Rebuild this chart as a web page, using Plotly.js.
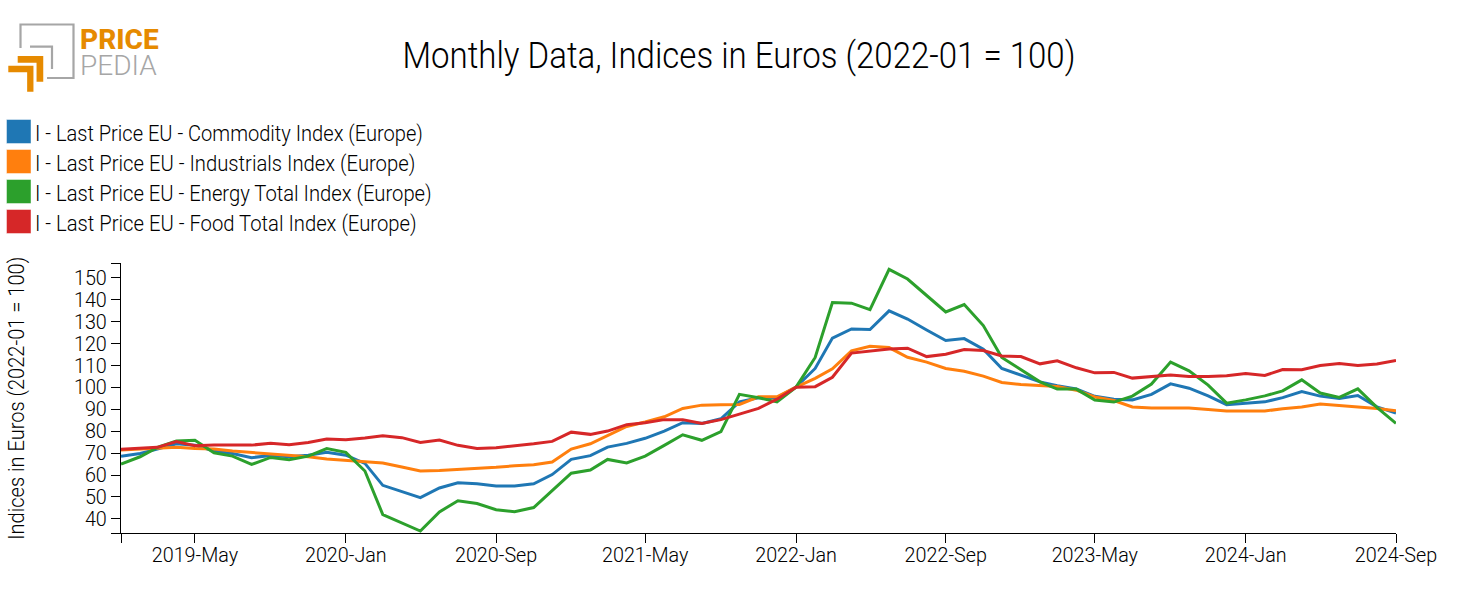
<!DOCTYPE html>
<html><head><meta charset="utf-8">
<script src="https://cdn.plot.ly/plotly-3.0.1.min.js"></script>
<style>html,body{margin:0;padding:0;background:#fff}#c{width:1477px;height:615px}</style>
</head><body><div id="c"></div>
<script>
const startYear = 2019;
const chartTitle = 'Monthly Data, Indices in Euros (2022-01 = 100)';
const yTitle = 'Indices in Euros (2022-01 = 100)';
const seriesNames = ['I - Last Price EU - Commodity Index (Europe)','I - Last Price EU - Industrials Index (Europe)','I - Last Price EU - Energy Total Index (Europe)','I - Last Price EU - Food Total Index (Europe)'];
const seriesColors = ['#1f77b4','#ff7f0e','#2ca02c','#d62728'];
const commodity = [68.5,69.8,71.8,74.2,73.5,70.9,69.8,67.9,68.9,68.3,69,70.3,69,65.3,55.3,52.4,49.7,54.1,56.5,56,55,55,56,60.2,67.1,68.8,72.7,74.4,76.7,80,83.8,83.5,85.6,93.3,95.2,95.3,100,108.5,122.3,126.5,126.2,134.7,131,126,121.2,122.1,117.3,108.5,105.5,102.4,100.6,99.2,95.8,94.5,94.2,96.7,101.5,99.5,96,92,92.7,93.3,95.2,98,95.9,94.8,96.2,91,88.2];
const industrials = [71.4,71.8,72.4,72.6,72.1,71.8,70.9,70.3,69.8,69.2,68.3,67.3,66.7,66.4,65.5,63.6,61.8,62,62.4,63,63.5,64.2,64.7,65.9,71.8,74.2,77.9,82.1,84.1,86.5,90.3,91.8,92,92.1,95.6,95.6,100,104,108.3,116.5,118.6,118,113.6,111.4,108.5,107.2,105,102.1,101.2,100.9,100.3,98.6,95.5,93.9,91,90.5,90.6,90.5,89.8,89.1,89.1,89.1,90.2,91,92.3,91.7,91,90.3,89.2];
const energy = [65,68.3,72.6,75.5,75.8,70.1,68.6,64.8,68,67,68.6,72,70.3,61.8,42,38.3,34.5,43.2,48.3,47,44.2,43.3,45.2,52.9,60.8,62.3,67.1,65.5,68.6,73.5,78.3,75.8,79.7,96.7,95.2,93.3,100,113.5,138.5,138.2,135.3,153.6,149.2,141.7,134.2,137.6,128,113.5,108,102.4,99.1,99.1,94.1,93.2,95.9,101.4,111.4,107.4,100.9,92.7,94.2,96,98.3,103.3,97.3,95.3,99.2,90.8,83.5];
const food = [71.7,72,72.6,75.2,73.3,73.6,73.6,73.6,74.5,73.8,74.8,76.4,76,76.8,77.9,77,74.8,75.9,73.5,72.1,72.4,73.2,74.2,75.3,79.5,78.5,80,82.9,83.8,85.2,85.2,83.5,85.2,87.7,90.3,94.5,100,100.2,104.5,115.5,116.4,117.3,117.7,113.9,115,117.1,116.7,114.2,113.9,110.6,112,108.8,106.5,106.7,104.1,104.8,105.5,104.8,104.8,105.2,106.2,105.3,108,107.9,109.8,110.8,109.8,110.5,112.1];
const yTicks = [40,50,60,70,80,90,100,110,120,130,140,150];
const xTickDates = ['2019-01-01','2019-05-01','2020-01-01','2020-09-01','2021-05-01','2022-01-01','2022-09-01','2023-05-01','2024-01-01','2024-09-01'];
const xTickLabels = ['','2019-May','2020-Jan','2020-Sep','2021-May','2022-Jan','2022-Sep','2023-May','2024-Jan','2024-Sep'];

const months = commodity.map((_, i) => {
  const y = startYear + Math.floor(i / 12), m = i % 12 + 1;
  return y + '-' + String(m).padStart(2, '0') + '-01';
});

const W = 1477, H = 615;
const M = {l:121, r:81, t:263, b:82};
const pw = W - M.l - M.r, ph = H - M.t - M.b;
const X = p => (p - M.l) / pw;
const Y = p => 1 - (p - M.t) / ph;
const yMin = 33.6, yMax = 156.5;

const F = 'Roboto, sans-serif';
const traces = [commodity, industrials, energy, food].map((v, i) => ({
  x: months, y: v, type:'scatter', mode:'lines', name: seriesNames[i],
  line:{color:seriesColors[i], width:3}, showlegend:false, cliponaxis:false, hoverinfo:'x+y+name'
}));

const shapes = [], annotations = [];
const legendScale = [0.912, 0.92, 0.919, 0.92];
seriesColors.forEach((c, i) => {
  const top = 119.5 + 30 * i;
  shapes.push({type:'rect', xref:'paper', yref:'paper', x0:X(6.5), x1:X(31), y0:Y(top), y1:Y(top+24),
    fillcolor:c, line:{color:'rgba(255,255,255,0.45)', width:1}});
  annotations.push({xref:'paper', yref:'paper', x:X(33), y:Y(top+14.3), xanchor:'left', yanchor:'middle', align:'left', showarrow:false,
    text:seriesNames[i], font:{family:F, size:22, weight:300, color:'#000'}});
});
annotations.push({xref:'paper', yref:'paper', x:X(739), y:Y(56), xanchor:'center', yanchor:'middle', showarrow:false,
  text:chartTitle, font:{family:F, size:36, weight:300, color:'#000'}});
annotations.push({xref:'paper', yref:'paper', x:X(16.5), y:Y(399), xanchor:'center', yanchor:'middle', showarrow:false, textangle:-90,
  text:yTitle, font:{family:F, size:22, weight:300, color:'#000'}});
// logo
const gray = '#a6a6a6', orange = '#e68a00';
const path = (pts) => 'M' + pts.map(p => X(p[0]) + ',' + Y(p[1])).join('L');
const logoLines = [
  {pts:[[20.5,48],[20.5,24.5],[73.5,24.5],[73.5,78],[47,78]], c:gray, w:2.2},
  {pts:[[30,46.7],[52,46.7],[52,69]], c:gray, w:2.2},
  {pts:[[17.7,59.3],[39.9,59.3],[39.9,81.7]], c:orange, w:6.7},
  {pts:[[8.3,69],[30.3,69],[30.3,91.7]], c:orange, w:6.3}
];
logoLines.forEach(l => shapes.push({type:'path', xref:'paper', yref:'paper', path:path(l.pts), line:{color:l.c, width:l.w}, fillcolor:'rgba(0,0,0,0)'}));
annotations.push({xref:'paper', yref:'paper', x:X(78), y:Y(39.5), xanchor:'left', yanchor:'middle', showarrow:false,
  text:'PRICE', font:{family:F, size:28, weight:800, color:orange}});
annotations.push({xref:'paper', yref:'paper', x:X(78), y:Y(65.5), xanchor:'left', yanchor:'middle', showarrow:false,
  text:'PEDIA', font:{family:F, size:28, weight:300, color:gray}});

const layout = {
  width:W, height:H, margin:M, paper_bgcolor:'#fff', plot_bgcolor:'#fff', showlegend:false,
  font:{family:F, weight:300, color:'#000'},
  xaxis:{type:'date', range:['2019-01-01','2024-09-01'], tickmode:'array', tickvals:xTickDates, ticktext:xTickLabels,
    ticks:'outside', ticklen:9, tickwidth:1, tickcolor:'#000', showline:true, linecolor:'#000', linewidth:1, showgrid:false, zeroline:false,
    ticklabelstandoff:-6, tickfont:{family:F, size:21, weight:300, color:'#000'}, automargin:false, tickangle:0},
  yaxis:{range:[yMin,yMax], tickmode:'array', tickvals:[yMin].concat(yTicks,[yMax]), ticktext:[''].concat(yTicks.map(String),['']),
    ticks:'outside', ticklen:9, tickwidth:1, tickcolor:'#000', showline:true, linecolor:'#000', linewidth:1, showgrid:false, zeroline:false,
    tickfont:{family:F, size:21, weight:300, color:'#000'}, automargin:false},
  shapes, annotations
};
const condense = (sel, scale) => document.querySelectorAll(sel).forEach(t => {
  const s = typeof scale === 'function' ? scale(t.textContent) : scale;
  if (s === 1 || !t.textContent) return;
  t.setAttribute('textLength', (t.getComputedTextLength() * s).toFixed(2));
  t.setAttribute('lengthAdjust', 'spacingAndGlyphs');
});
Plotly.newPlot('c', traces, layout, {displayModeBar:false, staticPlot:true}).then(() => {
  condense('.xtick text, .ytick text', 0.94);
  condense('.annotation-text', txt => {
    const k = seriesNames.indexOf(txt);
    if (k >= 0) return legendScale[k];
    return txt === chartTitle ? 0.917 : txt === yTitle ? 0.912 : 1;
  });
});
</script></body></html>
